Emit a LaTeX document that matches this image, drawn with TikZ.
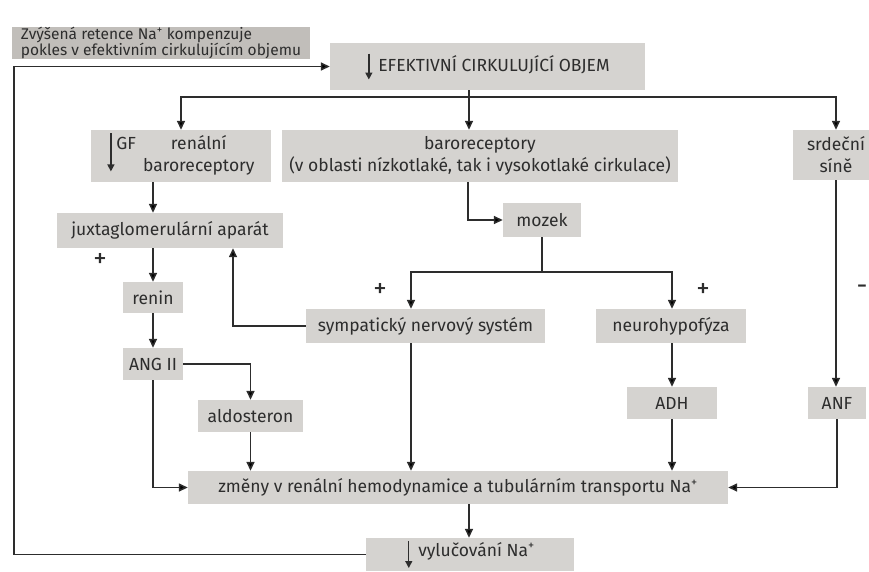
\documentclass[tikz,border=0pt]{standalone}
\usepackage{fontspec}
\setmainfont{Fira Sans}
\usetikzlibrary{arrows.meta}
\definecolor{boxgray}{RGB}{213,211,208}
\definecolor{notegray}{RGB}{193,190,186}
\definecolor{ink}{RGB}{45,45,45}
\newcommand{\dnarrow}[2]{\tikz[baseline=0pt]\draw[draw=ink,line width=1.4pt,-{Triangle[length=7pt,width=7pt]}] (0pt,#1) -- (0pt,#2);}

\begin{document}
\begin{tikzpicture}[x=1pt,y=-1pt]
\tikzstyle{box}=[fill=boxgray,text=ink,inner sep=0pt,align=center,font=\fontsize{17.5}{22}\selectfont]
\tikzstyle{arr}=[draw=ink,line width=1.5pt,-{Triangle[length=9pt,width=8pt]}]
\tikzstyle{sign}=[text=ink,font=\fontsize{27}{28}\selectfont]
\fill[white] (0,0) rectangle (869,571);
\useasboundingbox (0,0) rectangle (869,571);
\node[box,fill=notegray,minimum width=298pt,minimum height=32pt,align=left,font=\fontsize{15.5}{15}\selectfont] (note) at (161,43) {Zvýšená retence Na\textsuperscript{+} kompenzuje\\pokles v efektivním cirkulujícím objemu};
\node[box,minimum width=315pt,minimum height=47pt] (efekt) at (487.5,66.5) {\dnarrow{18pt}{-8pt}\hspace{6pt}EFEKTIVNÍ CIRKULUJÍCÍ OBJEM};
\node[box,minimum width=180pt,minimum height=52pt] (renbaro) at (181,156) {\begin{tabular}{@{}l@{\hspace{7pt}}c@{}}\smash{\dnarrow{16pt}{-22pt}}\hspace{2pt}GF & renální\\ & baroreceptory\end{tabular}};
\node[box,minimum width=396pt,minimum height=52pt] (baro) at (480,156) {baroreceptory\\(v oblasti nízkotlaké, tak i vysokotlaké cirkulace)};
\node[box,minimum width=86pt,minimum height=50pt] (sine) at (836,155) {srdeční\\síně};
\node[box,minimum width=226pt,minimum height=35pt] (juxta) at (170,230.5) {juxtaglomerulární aparát};
\node[box,minimum width=60pt,minimum height=31pt] (renin) at (153,297.5) {renin};
\node[box,minimum width=60pt,minimum height=32pt] (ang) at (153,364) {ANG II};
\node[box,minimum width=105pt,minimum height=32pt] (aldo) at (250.5,416) {aldosteron};
\node[box,minimum width=78pt,minimum height=34pt] (mozek) at (542,220) {mozek};
\node[box,minimum width=239pt,minimum height=34pt] (symp) at (425.5,326) {sympatický nervový systém};
\node[box,minimum width=150pt,minimum height=34pt] (neuro) at (671,326) {neurohypofýza};
\node[box,minimum width=90pt,minimum height=32pt] (adh) at (672,403) {ADH};
\node[box,minimum width=58pt,minimum height=32pt] (anf) at (837,403) {ANF};
\node[box,minimum width=540pt,minimum height=33pt] (zmeny) at (458,487.5) {změny v renální hemodynamice a tubulárním transportu Na\textsuperscript{+}};
\node[box,minimum width=208pt,minimum height=33pt] (vyluc) at (470,554.5) {\dnarrow{15pt}{-12pt}\hspace{6pt}vylučování Na\textsuperscript{+}};
\node[sign] (plusjuxta) at (100,260) {+};
\node[sign] (plussymp) at (380,290) {+};
\node[sign] (plusneuro) at (703,290) {+};
\node[sign] (minusanf) at (862,290) {-};
\coordinate (split) at (469,97);
\coordinate (brainl) at (411,272);
\coordinate (brainr) at (672,272);
\coordinate (loop) at (14,66.5);
\draw[arr] (vyluc.west) -| (loop) -- (efekt.west);
\draw[arr] (efekt.south -| split) -- (baro.north -| split);
\draw[arr] (split) -| (renbaro.north);
\draw[arr] (split) -| (sine.north);
\draw[arr] (renbaro.south -| renin) -- (juxta.north -| renin);
\draw[arr] (juxta.south -| renin) -- (renin);
\draw[arr] (renin) -- (ang);
\draw[arr] (ang.east) -| (aldo.north);
\draw[arr] (ang.south) |- (zmeny.west);
\draw[arr] (aldo.south) -- (aldo.south |- zmeny.north);
\draw[arr] ([xshift=-12pt]baro.south) |- (mozek.west);
\draw[arr] (mozek.south) |- (brainl) -- (brainl |- symp.north);
\draw[arr] (mozek.south) |- (brainr) -- (brainr |- neuro.north);
\draw[arr] (symp.west) -| ([xshift=63pt]juxta.south);
\draw[arr] (brainl |- symp.south) -- (brainl |- zmeny.north);
\draw[arr] (neuro.south -| adh) -- (adh.north);
\draw[arr] (adh.south) -- (adh.south |- zmeny.north);
\draw[arr] (sine.south) -- (sine.south |- anf.north);
\draw[arr] (anf.south) |- (zmeny.east);
\draw[arr] (zmeny.south -| split) -- (vyluc.north -| split);
\end{tikzpicture}
\end{document}
